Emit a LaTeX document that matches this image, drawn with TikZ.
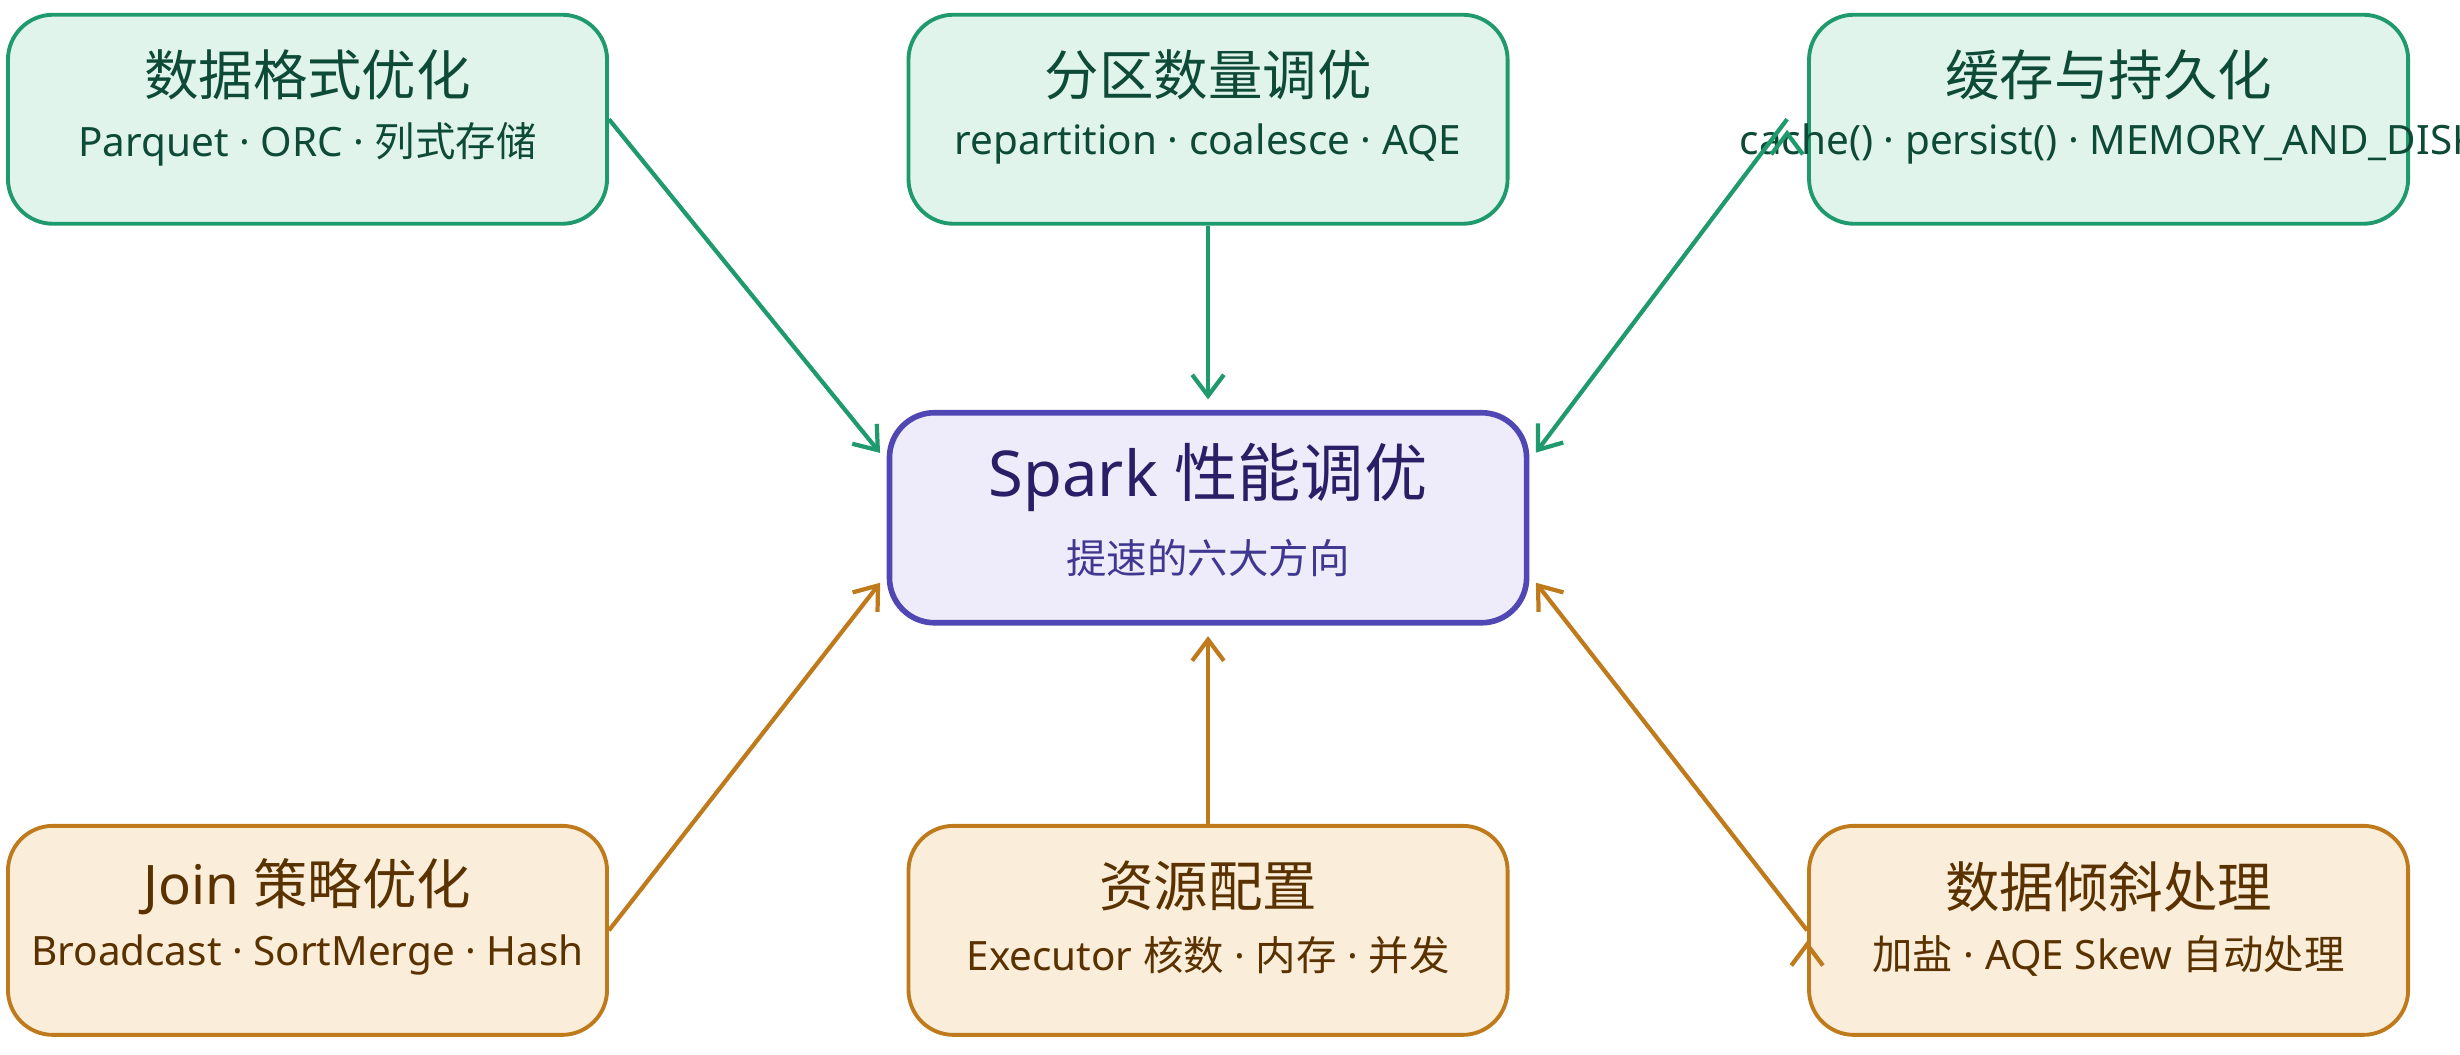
\documentclass[tikz,border=0pt]{standalone}
\usepackage{fontspec}
\setmainfont{Noto Sans}
\newfontfamily\cjk{Noto Sans CJK SC}
\usetikzlibrary{arrows.meta}
\definecolor{gline}{HTML}{1E9A6C}
\definecolor{gfill}{HTML}{E1F4EC}
\definecolor{gtext}{HTML}{0E4A38}
\definecolor{oline}{HTML}{BF7A1C}
\definecolor{ofill}{HTML}{FAEDDA}
\definecolor{otext}{HTML}{5A3200}
\definecolor{cline}{HTML}{5046B4}
\definecolor{cfill}{HTML}{EEECFB}
\definecolor{ctext}{HTML}{2A1F66}

\begin{document}
\begin{tikzpicture}[x=0.01569cm, y=-0.01569cm]
    \tikzset{
        box/.style={draw, rounded corners=0.45cm, minimum width=5.99cm, minimum height=2.09cm, line width=1.1pt},
        green/.style={box, draw=gline, fill=gfill, text=gtext},
        orange/.style={box, draw=oline, fill=ofill, text=otext},
        link/.style={-{Straight Barb[length=6pt, width=9pt]}, line width=1.2pt, shorten >=3pt},
        title/.style={font=\fontsize{15.5}{18}\selectfont},
        sub/.style={font=\fontsize{11.5}{14}\selectfont}
    }
    \useasboundingbox (0,0) rectangle (1568,672);

    % center
    \node[box, draw=cline, fill=cfill, minimum width=6.37cm, minimum height=2.1cm, line width=1.6pt] (core) at (770,330) {};
    \node[text=ctext, font=\fontsize{18}{21}\selectfont] (coret) at (770,304) {Spark {\cjk 性能调优}};
    \node[text=cline!80!black, sub] (cores) at (770,356) {\cjk 提速的六大方向};

    % top row
    \node[green] (fmt) at (196,76) {};
    \node[text=gtext, title] at (196,48) {\cjk 数据格式优化};
    \node[text=gtext, sub] at (196,92) {Parquet · ORC · {\cjk 列式存储}};

    \node[green] (part) at (770,76) {};
    \node[text=gtext, title] at (770,48) {\cjk 分区数量调优};
    \node[text=gtext, sub] at (770,92) {repartition · coalesce · AQE};

    \node[green] (cache) at (1344,76) {};
    \node[text=gtext, title] at (1344,48) {\cjk 缓存与持久化};
    \node[text=gtext, sub] at (1344,92) {cache() · persist() · MEMORY\_AND\_DISK};

    % bottom row
    \node[orange] (join) at (196,593) {};
    \node[text=otext, title] at (196,565) {Join {\cjk 策略优化}};
    \node[text=otext, sub] at (196,609) {Broadcast · SortMerge · Hash};

    \node[orange] (res) at (770,593) {};
    \node[text=otext, title] at (770,565) {\cjk 资源配置};
    \node[text=otext, sub] at (770,609) {Executor {\cjk 核数} · {\cjk 内存} · {\cjk 并发}};

    \node[orange] (skew) at (1344,593) {};
    \node[text=otext, title] at (1344,565) {\cjk 数据倾斜处理};
    \node[text=otext, sub] at (1344,609) {{\cjk 加盐} · AQE Skew {\cjk 自动处理}};

    \path[link, draw=gline]
        (fmt.east) edge (core.170)
        (part.south) edge (core.north)
        ([xshift=-0.2cm]cache.west) edge (core.10);
    \path[link, draw=oline]
        (join.east) edge (core.190)
        (res.north) edge (core.south)
        (skew.west) edge (core.350);
\end{tikzpicture}
\end{document}
